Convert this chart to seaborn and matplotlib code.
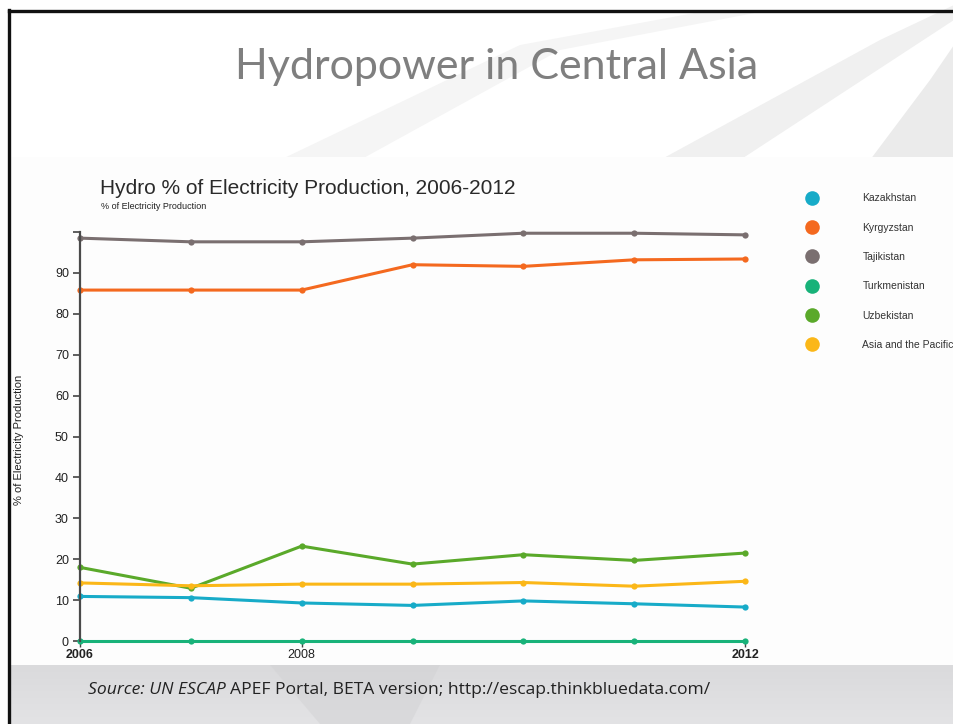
import matplotlib
matplotlib.use("Agg")
import matplotlib.pyplot as plt
from matplotlib.patches import Rectangle, Polygon
from matplotlib.lines import Line2D
from matplotlib import font_manager
import numpy as np
import pandas as pd
import seaborn as sns

# ---- data (hydro share of electricity production, %) ----
years = [2006, 2007, 2008, 2009, 2010, 2011, 2012]
kazakhstan = [10.9, 10.6, 9.3, 8.7, 9.8, 9.1, 8.3]
kyrgyzstan = [85.8, 85.8, 85.8, 92.0, 91.6, 93.2, 93.4]
tajikistan = [98.5, 97.6, 97.6, 98.5, 99.7, 99.7, 99.3]
turkmenistan = [0.0, 0.0, 0.0, 0.0, 0.0, 0.0, 0.0]
uzbekistan = [18.0, 12.9, 23.2, 18.8, 21.1, 19.7, 21.5]
asia_pacific = [14.2, 13.5, 13.9, 13.9, 14.3, 13.4, 14.6]

series_names = ["Kazakhstan", "Kyrgyzstan", "Tajikistan", "Turkmenistan",
                "Uzbekistan", "Asia and the Pacific"]
series_values = [kazakhstan, kyrgyzstan, tajikistan, turkmenistan,
                 uzbekistan, asia_pacific]
series_colors = ["#17abc8", "#f4691f", "#7a6f70", "#18b279", "#5aa92a", "#fbb718"]

y_ticks = [0, 10, 20, 30, 40, 50, 60, 70, 80, 90, 100]
y_tick_labels = ["0", "10", "20", "30", "40", "50", "60", "70", "80", "90", ""]
x_ticks = [2006, 2008, 2012]
x_tick_labels = ["2006", "2008", "2012"]

df = pd.DataFrame({
    "year": np.tile(years, len(series_names)),
    "value": np.concatenate(series_values),
    "country": np.repeat(series_names, len(years)),
})

sns.set_theme(style="white")
installed = {f.name for f in font_manager.fontManager.ttflist}
narrow = "Liberation Sans Narrow" if "Liberation Sans Narrow" in installed else "Liberation Sans"
plt.rcParams["font.family"] = ["Liberation Sans", "DejaVu Sans"]

W, H = 954, 724
fig = plt.figure(figsize=(W / 100, H / 100), dpi=100)
fig.patch.set_facecolor("white")

def px(x, y):
    return x / W, 1 - y / H

# slide background: faint swoosh watermark and grey footer band
bg = fig.add_axes([0, 0, 1, 1], zorder=-10)
bg.set_xlim(0, W)
bg.set_ylim(H, 0)
bg.axis("off")
bg.add_patch(Polygon([(280, 160), (360, 160), (560, 50), (760, 12), (700, 12), (520, 45)],
                     closed=True, color="#f5f5f5", lw=0))
bg.add_patch(Polygon([(660, 160), (740, 160), (954, 20), (954, 5), (880, 40)],
                     closed=True, color="#f0f0f0", lw=0))
bg.add_patch(Polygon([(870, 160), (954, 160), (954, 45), (930, 80)],
                     closed=True, color="#ebebeb", lw=0))
# chart image area
bg.add_patch(Rectangle((11, 157), W - 11, 508, color="#fdfdfd", lw=0))
# footer band
grad = np.linspace(0, 1, 60).reshape(-1, 1)
bg.imshow(grad, extent=(11, W, H, 665), cmap=matplotlib.colors.LinearSegmentedColormap.from_list(
    "band", ["#dadadc", "#e3e3e5"]), aspect="auto", zorder=1)
bg.add_patch(Polygon([(270, 665), (440, 665), (410, 724), (320, 724)],
                     closed=True, color="#d2d2d4", lw=0, zorder=2, alpha=0.5))
# slide frame
bg.plot([9, 9], [10, H], color="#111111", lw=2.4, solid_capstyle="projecting", zorder=5)
bg.plot([9, W], [10.5, 10.5], color="#111111", lw=2.4, solid_capstyle="projecting", zorder=5)

# slide title
fig.text(*px(497, 67), "Hydropower in Central Asia", ha="center", va="center",
         fontsize=31, color="#7f7f7f", family=["Lato", "DejaVu Sans"])

# chart titles
fig.text(*px(100, 194), "Hydro % of Electricity Production, 2006-2012", ha="left",
         va="baseline", fontsize=15, color="#2a2a2a", family=[narrow, "DejaVu Sans"])
fig.text(*px(101, 209), "% of Electricity Production", ha="left", va="baseline",
         fontsize=6.5, color="#222222", family=[narrow, "DejaVu Sans"])

# main plot area
l, b = px(80, 641)
r, t = px(745, 232)
ax = fig.add_axes([l, b, r - l, t - b])
ax.set_facecolor("none")
palette = dict(zip(series_names, series_colors))
sns.lineplot(data=df, x="year", y="value", hue="country", hue_order=series_names,
             palette=palette, marker="o", markersize=4.5, markeredgewidth=0,
             linewidth=2.2, ax=ax, legend=False)
for ln in ax.get_lines():
    ln.set_clip_on(False)

ax.set_xlim(2006, 2012)
ax.set_ylim(0, 100)
ax.set_yticks(y_ticks)
ax.set_yticklabels(y_tick_labels)
ax.set_xticks(x_ticks)
ax.set_xticklabels(x_tick_labels)
for lab in ax.get_xticklabels():
    if lab.get_text() in ("2006", "2012"):
        lab.set_fontweight("bold")
ax.tick_params(axis="y", direction="out", length=5, width=1.2, color="#444444",
               labelsize=9, labelcolor="#222222", pad=3, left=True)
ax.tick_params(axis="x", direction="out", length=4, width=1.0, color="#444444",
               labelsize=9, labelcolor="#222222", pad=2, bottom=True)
for s in ("top", "right", "bottom"):
    ax.spines[s].set_visible(False)
ax.spines["left"].set_color("#4a4a4a")
ax.spines["left"].set_linewidth(1.6)
ax.set_xlabel("")
ax.set_ylabel("")

fig.text(*px(19, 440), "% of Electricity Production", rotation=90, ha="center",
         va="center", fontsize=8, color="#222222", family=[narrow, "DejaVu Sans"])

# legend
handles = [Line2D([], [], marker="o", linestyle="none", markersize=10.5,
                  markerfacecolor=c, markeredgewidth=0) for c in series_colors]
fig.legend(handles, series_names, loc="upper left", bbox_to_anchor=px(801, 189),
           frameon=False, handletextpad=4.1, labelspacing=1.86, handlelength=1.4,
           prop={"family": narrow, "size": 7.5}, labelcolor="#333333", borderaxespad=0)

# source footnote
src_font = ["Open Sans", "DejaVu Sans"]
t1 = fig.text(*px(88, 694), "Source: UN ESCAP ", ha="left", va="baseline", fontsize=12.6,
              style="italic", color="#222222", family=src_font)
fig.canvas.draw()
bb = t1.get_window_extent()
fig.text(bb.x1 / W, 1 - 694 / H, "APEF Portal, BETA version; http://escap.thinkbluedata.com/",
         ha="left", va="baseline", fontsize=12.6, color="#222222", family=src_font)

fig.savefig("out.png", dpi=100, facecolor=fig.get_facecolor())
